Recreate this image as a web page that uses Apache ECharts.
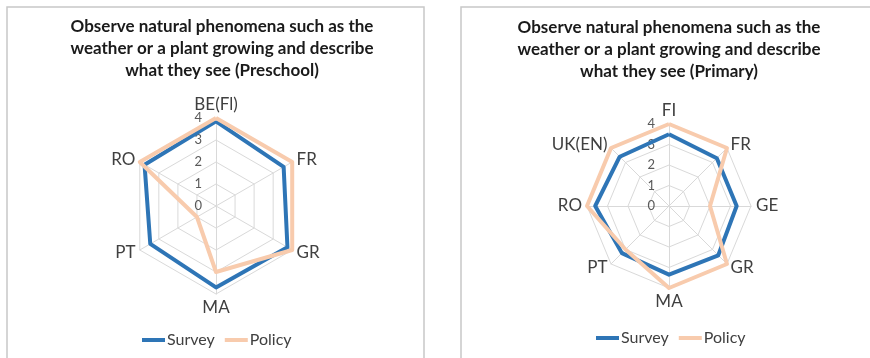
<!DOCTYPE html>
<html>
<head>
<meta charset="utf-8">
<script src="https://cdn.jsdelivr.net/npm/echarts@6/dist/echarts.min.js"></script>
<style>
  html, body { margin: 0; padding: 0; background: #ffffff; }
  #chart { width: 870px; height: 358px; }
</style>
</head>
<body>
<div id="chart"></div>
<script>
// Country axes, listed clockwise starting from the top
const preschoolAxes = ['BE(Fl)', 'FR', 'GR', 'MA', 'PT', 'RO'];
const preschoolSurvey = [3.85, 3.55, 3.75, 3.7, 3.45, 3.75];
const preschoolPolicy = [4, 4, 4, 3, 1, 4];

const primaryAxes = ['FI', 'FR', 'GE', 'GR', 'MA', 'PT', 'RO', 'UK(EN)'];
const primarySurvey = [3.5, 3.3, 3.3, 3.4, 3.35, 3.25, 3.6, 3.4];
const primaryPolicy = [4, 4, 2, 4, 4, 3, 4, 4];

const scaleTicks = ['0', '1', '2', '3', '4'];
const seriesNames = ['Survey', 'Policy'];
const titles = [
  'Observe natural phenomena such as the\nweather or a plant growing and describe\nwhat they see (Preschool)',
  'Observe natural phenomena such as the\nweather or a plant growing and describe\nwhat they see (Primary)'
];

const SURVEY_COLOR = '#2E75B6';
const POLICY_COLOR = '#F8CBAD';
const GRID_COLOR = '#D9D9D9';
const FONT = 'Lato, "Open Sans", sans-serif';
const scaleMax = scaleTicks.length - 1;

// ECharts lays radar axes out counter-clockwise, so keep the first axis
// on top and walk the rest of the list backwards.
function clockwiseOrder(arr) {
  return [arr[0]].concat(arr.slice(1).reverse());
}

const panels = [
  { axes: preschoolAxes, survey: preschoolSurvey, policy: preschoolPolicy,
    center: [216, 206], radius: 88, titleX: 222, titleTop: 16, legendLeft: 142, legendTop: 332 },
  { axes: primaryAxes, survey: primarySurvey, policy: primaryPolicy,
    center: [669, 206], radius: 82, titleX: 669, titleTop: 17, legendLeft: 596, legendTop: 330 }
];

const option = {
  backgroundColor: '#ffffff',
  animation: false,
  title: panels.map((p, i) => ({
    text: titles[i],
    left: p.titleX,
    top: p.titleTop,
    textAlign: 'center',
    padding: 0,
    textStyle: {
      fontFamily: FONT,
      fontWeight: 'bold',
      fontSize: 17,
      lineHeight: 22,
      color: '#1a1a1a'
    }
  })),
  legend: panels.map((p) => ({
    data: seriesNames,
    left: p.legendLeft,
    top: p.legendTop,
    orient: 'horizontal',
    icon: 'rect',
    itemWidth: 23,
    itemHeight: 4,
    itemGap: 10,
    padding: 0,
    selectedMode: false,
    textStyle: { fontFamily: FONT, fontSize: 16, color: '#404040', padding: [0, 0, 0, -3] }
  })),
  radar: panels.map((p) => ({
    center: p.center,
    radius: p.radius,
    startAngle: 90,
    shape: 'polygon',
    splitNumber: scaleMax,
    indicator: clockwiseOrder(p.axes).map((name) => ({ name: name, min: 0, max: scaleMax })),
    axisName: { fontFamily: FONT, fontSize: 17, color: '#404040' },
    nameGap: 5,
    axisLine: { lineStyle: { color: GRID_COLOR, width: 1 } },
    splitLine: { lineStyle: { color: GRID_COLOR, width: 1 } },
    splitArea: { show: false },
    axisTick: { show: false },
    axisLabel: { show: false }
  })),
  // Polar systems sharing each radar's centre carry the 0-4 scale along the top axis
  polar: panels.map((p) => ({ center: p.center, radius: p.radius })),
  angleAxis: panels.map((p, i) => ({ polarIndex: i, show: false, startAngle: 90, min: 0, max: 360 })),
  radiusAxis: panels.map((p, i) => ({
    polarIndex: i,
    type: 'value',
    min: 0,
    max: scaleMax,
    interval: 1,
    axisLine: { show: false },
    axisTick: { show: false },
    splitLine: { show: false },
    axisLabel: {
      show: true,
      margin: 14,
      fontFamily: FONT,
      fontSize: 13,
      color: '#595959',
      formatter: (v) => scaleTicks[v]
    }
  })),
  series: panels.map((p, i) => ({
    type: 'radar',
    radarIndex: i,
    symbol: 'none',
    silent: true,
    data: [
      { name: seriesNames[0], value: clockwiseOrder(p.survey),
        lineStyle: { color: SURVEY_COLOR, width: 4 }, itemStyle: { color: SURVEY_COLOR } },
      { name: seriesNames[1], value: clockwiseOrder(p.policy),
        lineStyle: { color: POLICY_COLOR, width: 4 }, itemStyle: { color: POLICY_COLOR } }
    ]
  })),
  // Panel frames
  graphic: [
    { type: 'rect', shape: { x: 7, y: 7, width: 417, height: 400 },
      style: { fill: 'none', stroke: '#C8C8C8', lineWidth: 1.5 }, z: -10 },
    { type: 'rect', shape: { x: 461, y: 7, width: 430, height: 400 },
      style: { fill: 'none', stroke: '#C8C8C8', lineWidth: 1.5 }, z: -10 }
  ]
};

const chart = echarts.init(document.getElementById('chart'), null, { renderer: 'canvas' });
chart.setOption(option);
</script>
</body>
</html>
